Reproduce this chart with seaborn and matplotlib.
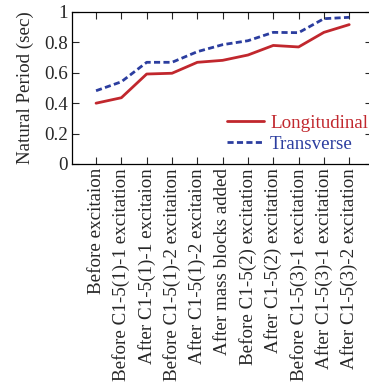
import matplotlib
matplotlib.use("Agg")
import matplotlib.pyplot as plt
import seaborn as sns
import pandas as pd

stages = ["Before excitaion", "Before C1-5(1)-1 excitation", "After C1-5(1)-1 excitaion",
          "Before C1-5(1)-2 excitaiton", "After C1-5(1)-2 excitaion", "After mass blocks added",
          "Before C1-5(2) excitation", "After C1-5(2) excitation", "Before C1-5(3)-1 excitation",
          "After C1-5(3)-1 excitation", "After C1-5(3)-2 excitation"]
longitudinal = [0.40, 0.436, 0.592, 0.597, 0.669, 0.682, 0.717, 0.78, 0.77, 0.866, 0.917]
transverse = [0.482, 0.541, 0.669, 0.669, 0.739, 0.785, 0.811, 0.866, 0.864, 0.956, 0.965]

df = pd.DataFrame({
    "idx": list(range(len(stages))) * 2,
    "value": longitudinal + transverse,
    "series": ["Longitudinal"] * len(stages) + ["Transverse"] * len(stages),
})

sns.set_style("ticks")
plt.rcParams['font.family'] = ['Liberation Serif', 'DejaVu Serif']

fig = plt.figure(figsize=(3.69, 3.82), dpi=100)
ax = fig.add_axes([72/369, 1-164/382, (372-72)/369, (164-12)/382])
red = "#c1272d"
blue = "#2b3d9f"
sns.lineplot(data=df, x="idx", y="value", hue="series", style="series",
             palette={"Longitudinal": red, "Transverse": blue},
             dashes={"Longitudinal": "", "Transverse": (2.2, 1.2)},
             linewidth=2.0, ax=ax, legend=True)
ax.set_xlim(-0.95, 10.9)
ax.set_ylim(0, 1)
ax.set_xticks(range(len(stages)))
ax.set_xticklabels(stages, rotation=90, fontsize=13.7)
ax.set_yticks([0, 0.2, 0.4, 0.6, 0.8, 1])
ax.set_yticklabels(["0", "0.2", "0.4", "0.6", "0.8", "1"], fontsize=13.7)
ax.set_xlabel("")
ax.set_ylabel("Natural Period (sec)", fontsize=13.7, labelpad=7)
ax.tick_params(direction="in", top=True, right=True, length=5, width=0.8, pad=3)
for s in ax.spines.values():
    s.set_linewidth(0.9)
    s.set_color("black")
leg = ax.legend(loc="lower right", frameon=False, fontsize=13.7, handlelength=1.95,
                handletextpad=0.3, borderaxespad=0.0, labelspacing=0.2,
                bbox_to_anchor=(1.012, 0.024))
for t, c in zip(leg.get_texts(), [red, blue]):
    t.set_color(c)
fig.savefig("out.png", dpi=100)
